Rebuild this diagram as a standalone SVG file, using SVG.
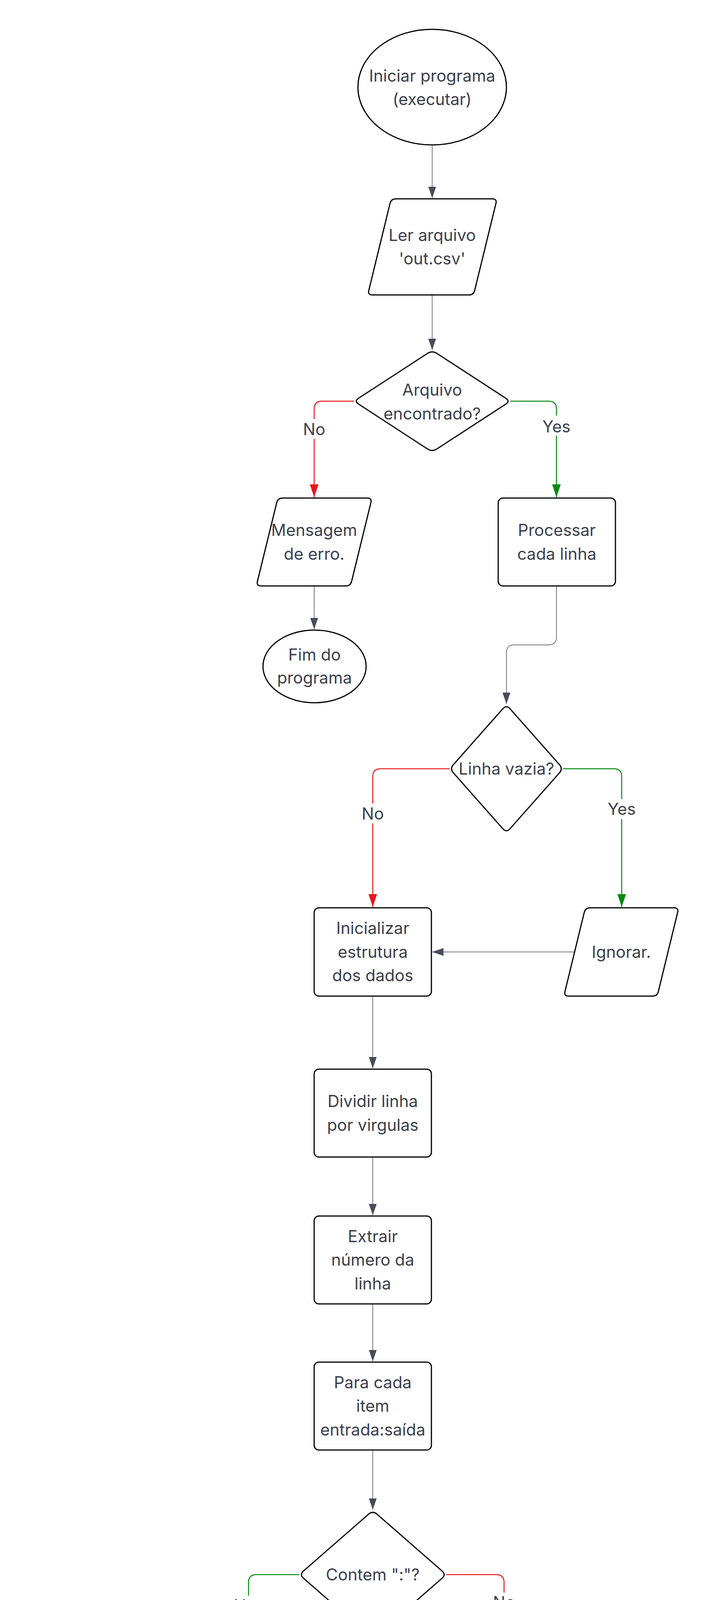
<svg xmlns="http://www.w3.org/2000/svg" width="1817" height="6996" viewBox="0 0 1817 6996">
<style>
.s{fill:#ffffff;stroke:#000000;stroke-width:3;stroke-linejoin:round}
.t{font-family:Inter,"Noto Sans","Liberation Sans",sans-serif;font-size:42px;fill:#3b404c;text-anchor:middle}
.g{fill:none;stroke:#474c59;stroke-width:1.5}
.r{fill:none;stroke:#e8161b;stroke-width:2.5}
.gr{fill:none;stroke:#008a0e;stroke-width:2.5}
.bg{fill:#ffffff;stroke:none}
</style>
<defs>
<marker id="mg" markerUnits="userSpaceOnUse" markerWidth="30" markerHeight="20" refX="29" refY="10" orient="auto"><path d="M0,0 L29,10 L0,20 Z" fill="#474c59"/></marker>
<marker id="mr" markerUnits="userSpaceOnUse" markerWidth="34" markerHeight="22" refX="33" refY="11" orient="auto"><path d="M0,0 L33,11 L0,22 Z" fill="#e8161b"/></marker>
<marker id="mgr" markerUnits="userSpaceOnUse" markerWidth="34" markerHeight="22" refX="33" refY="11" orient="auto"><path d="M0,0 L33,11 L0,22 Z" fill="#008a0e"/></marker>
</defs>
<rect x="0" y="0" width="1817" height="6996" fill="#ffffff"/>

<g id="connectors">
<path class="g" d="M1106,373 L1106,507" marker-end="url(#mg)"/>
<path class="g" d="M1106,755 L1106,896" marker-end="url(#mg)"/>
<path class="r" d="M906,1027 L824,1027 Q804,1027 804,1047 L804,1273" marker-end="url(#mr)"/>
<rect class="bg" x="778" y="1073" width="52" height="50"/>
<text class="t" x="804" y="1114">No</text>
<path class="gr" d="M1306,1027 L1404,1027 Q1424,1027 1424,1047 L1424,1273" marker-end="url(#mgr)"/>
<rect class="bg" x="1388" y="1064" width="72" height="51"/>
<text class="t" x="1424" y="1107">Yes</text>
<path class="g" d="M804,1500 L804,1611" marker-end="url(#mg)"/>
<path class="g" d="M1424,1500 L1424,1631 Q1424,1651 1404,1651 L1316,1651 Q1296,1651 1296,1671 L1296,1802" marker-end="url(#mg)"/>
<path class="r" d="M1151,1968 L974,1968 Q954,1968 954,1988 L954,2322" marker-end="url(#mr)"/>
<rect class="bg" x="928" y="2057" width="52" height="51"/>
<text class="t" x="954" y="2098">No</text>
<path class="gr" d="M1441,1968 L1571,1968 Q1591,1968 1591,1988 L1591,2322" marker-end="url(#mgr)"/>
<rect class="bg" x="1555" y="2046" width="72" height="51"/>
<text class="t" x="1591" y="2086">Yes</text>
<path class="g" d="M1470,2437 L1106,2437" marker-end="url(#mg)"/>
<path class="g" d="M954,2550 L954,2735" marker-end="url(#mg)"/>
<path class="g" d="M954,2962 L954,3111" marker-end="url(#mg)"/>
<path class="g" d="M954,3338 L954,3485" marker-end="url(#mg)"/>
<path class="g" d="M954,3712 L954,3865" marker-end="url(#mg)"/>
<path class="gr" d="M766,4031 L656,4031 Q636,4031 636,4051 L636,4321" marker-end="url(#mgr)"/>
<rect class="bg" x="600" y="4085" width="72" height="51"/>
<text class="t" x="636" y="4125">Yes</text>
<path class="r" d="M1142,4031 L1270,4031 Q1290,4031 1290,4051 L1290,4321" marker-end="url(#mr)"/>
<rect class="bg" x="1264" y="4077" width="52" height="51"/>
<text class="t" x="1290" y="4117">No</text>
<path class="g" d="M636,4549 L636,4710" marker-end="url(#mg)"/>
<path class="g" d="M1290,4549 L1290,4710" marker-end="url(#mg)"/>
<path class="g" d="M636,4937 L636,5098" marker-end="url(#mg)"/>
<path class="g" d="M636,5325 L636,5515" marker-end="url(#mg)"/>
<path class="r" d="M409,5681 L304,5681 Q284,5681 284,5701 L284,5960" marker-end="url(#mr)"/>
<rect class="bg" x="258" y="5731" width="52" height="51"/>
<text class="t" x="284" y="5772">No</text>
<path class="gr" d="M863,5681 L1031,5681 L1031,5847" marker-end="url(#mgr)"/>
<rect class="bg" x="996" y="5658" width="72" height="48"/>
<text class="t" x="1031" y="5697">Yes</text>
<path class="g" d="M1040,6075 L1040,6236" marker-end="url(#mg)"/>
<path class="g" d="M1040,6463 L1040,6620" marker-end="url(#mg)"/>
</g>

<g id="n-start">
<ellipse class="s" cx="1106" cy="223" rx="190" ry="148"/>
<text class="t" x="1106" y="209">Iniciar programa</text>
<text class="t" x="1106" y="269">(executar)</text>
</g>
<g id="n-ler">
<path class="s" d="M1013,509 L1260,509 Q1272,509 1269.2,520.7 L1214.8,743.3 Q1212,755 1200,755 L953,755 Q941,755 943.8,743.3 L998.2,520.7 Q1001,509 1013,509 Z"/>
<text class="t" x="1106" y="617">Ler arquivo</text>
<text class="t" x="1106" y="677">'out.csv'</text>
</g>
<g id="n-arquivo">
<path class="s" d="M1094.3,904.6 Q1106,897 1117.7,904.6 L1294.3,1019.4 Q1306,1027 1294.3,1034.6 L1117.7,1149.4 Q1106,1157 1094.3,1149.4 L917.7,1034.6 Q906,1027 917.7,1019.4 Z"/>
<text class="t" x="1106" y="1013">Arquivo</text>
<text class="t" x="1106" y="1074">encontrado?</text>
</g>
<g id="n-mensagem">
<path class="s" d="M723,1275 L940,1275 Q952,1275 949.2,1286.7 L899.8,1488.3 Q897,1500 885,1500 L668,1500 Q656,1500 658.8,1488.3 L708.2,1286.7 Q711,1275 723,1275 Z"/>
<text class="t" x="804" y="1372">Mensagem</text>
<text class="t" x="804" y="1433">de erro.</text>
</g>
<g id="n-processar">
<rect class="s" x="1275" y="1275" width="300" height="225" rx="12"/>
<text class="t" x="1425" y="1372">Processar</text>
<text class="t" x="1425" y="1433">cada linha</text>
</g>
<g id="n-fim1">
<ellipse class="s" cx="805" cy="1706" rx="132" ry="93"/>
<text class="t" x="805" y="1691">Fim do</text>
<text class="t" x="805" y="1750">programa</text>
</g>
<g id="n-vazia">
<path class="s" d="M1286.7,1814.5 Q1296,1804 1305.3,1814.5 L1431.7,1957.5 Q1441,1968 1431.7,1978.5 L1305.3,2121.5 Q1296,2132 1286.7,2121.5 L1160.3,1978.5 Q1151,1968 1160.3,1957.5 Z"/>
<text class="t" x="1296" y="1983">Linha vazia?</text>
</g>
<g id="n-inicializar">
<rect class="s" x="804" y="2324" width="300" height="226" rx="12"/>
<text class="t" x="954" y="2391">Inicializar</text>
<text class="t" x="954" y="2452">estrutura</text>
<text class="t" x="954" y="2512">dos dados</text>
</g>
<g id="n-ignorar">
<path class="s" d="M1510,2324 L1725,2324 Q1737,2324 1734.2,2335.7 L1684.8,2538.3 Q1682,2550 1670,2550 L1455,2550 Q1443,2550 1445.8,2538.3 L1495.2,2335.7 Q1498,2324 1510,2324 Z"/>
<text class="t" x="1590" y="2452">Ignorar.</text>
</g>
<g id="n-dividir">
<rect class="s" x="804" y="2737" width="300" height="225" rx="12"/>
<text class="t" x="954" y="2834">Dividir linha</text>
<text class="t" x="954" y="2895">por virgulas</text>
</g>
<g id="n-extrair">
<rect class="s" x="804" y="3113" width="300" height="225" rx="12"/>
<text class="t" x="954" y="3180">Extrair</text>
<text class="t" x="954" y="3240">número da</text>
<text class="t" x="954" y="3301">linha</text>
</g>
<g id="n-paraitem">
<rect class="s" x="804" y="3487" width="300" height="225" rx="12"/>
<text class="t" x="954" y="3554">Para cada</text>
<text class="t" x="954" y="3614">item</text>
<text class="t" x="954" y="3675">entrada:saída</text>
</g>
<g id="n-contem">
<path class="s" d="M943.45,3876.2 Q954,3867 964.55,3876.2 L1131.45,4021.8 Q1142,4031 1131.45,4040.2 L964.55,4185.8 Q954,4195 943.45,4185.8 L776.55,4040.2 Q766,4031 776.55,4021.8 Z"/>
<text class="t" x="954" y="4046">Contem ":"?</text>
</g>
<g id="n-paralinha">
<path class="s" d="M557,4323 L773,4323 Q785,4323 782.2,4334.7 L732.8,4537.3 Q730,4549 718,4549 L502,4549 Q490,4549 492.8,4537.3 L542.2,4334.7 Q545,4323 557,4323 Z"/>
<text class="t" x="637" y="4390">Para cada</text>
<text class="t" x="637" y="4451">linha do</text>
<text class="t" x="637" y="4511">arquivo</text>
</g>
<g id="n-exibirerro">
<path class="s" d="M1210,4323 L1425,4323 Q1437,4323 1434.2,4334.7 L1384.8,4537.3 Q1382,4549 1370,4549 L1155,4549 Q1143,4549 1145.8,4537.3 L1195.2,4334.7 Q1198,4323 1210,4323 Z"/>
<text class="t" x="1290" y="4390">Exibir</text>
<text class="t" x="1290" y="4451">mensagem</text>
<text class="t" x="1290" y="4511">de erro</text>
</g>
<g id="n-converter">
<rect class="s" x="488" y="4712" width="300" height="225" rx="12"/>
<text class="t" x="638" y="4809">Converter</text>
<text class="t" x="638" y="4870">para inteiros</text>
</g>
<g id="n-proxima">
<ellipse class="s" cx="1291" cy="4872" rx="141" ry="160"/>
<text class="t" x="1291" y="4887">Proxima linha</text>
</g>
<g id="n-armazenar">
<rect class="s" x="488" y="5100" width="300" height="225" rx="12"/>
<text class="t" x="638" y="5167">armazenar</text>
<text class="t" x="638" y="5227">na lista da</text>
<text class="t" x="638" y="5288">linha.</text>
</g>
<g id="n-todos">
<path class="s" d="M624.65,5525.2 Q636,5517 647.35,5525.2 L851.65,5672.8 Q863,5681 851.65,5689.2 L647.35,5836.8 Q636,5845 624.65,5836.8 L420.35,5689.2 Q409,5681 420.35,5672.8 Z"/>
<text class="t" x="636" y="5666">Todos os dados</text>
<text class="t" x="636" y="5727">processados?</text>
</g>
<g id="n-voltar">
<path class="s" d="M174,5962 L475,5962 Q487,5962 484,5973.6 L403,6288.4 Q400,6300 388,6300 L87,6300 Q75,6300 78,6288.4 L159,5973.6 Q162,5962 174,5962 Z"/>
<text class="t" x="281" y="6115">Voltar para a</text>
<text class="t" x="281" y="6176">proxima linha.</text>
</g>
<g id="n-ordenar">
<rect class="s" x="890" y="5849" width="300" height="226" rx="12"/>
<text class="t" x="1040" y="5916">Ordenar</text>
<text class="t" x="1040" y="5977">resultados</text>
<text class="t" x="1040" y="6037">por entrada</text>
</g>
<g id="n-relatorio">
<path class="s" d="M960,6238 L1175,6238 Q1187,6238 1184.2,6249.7 L1134.8,6451.3 Q1132,6463 1120,6463 L905,6463 Q893,6463 895.8,6451.3 L945.2,6249.7 Q948,6238 960,6238 Z"/>
<text class="t" x="1040" y="6335">Exibir</text>
<text class="t" x="1040" y="6396">relatório</text>
</g>
<g id="n-fim2">
<ellipse class="s" cx="1059" cy="6774" rx="190" ry="148"/>
<text class="t" x="1059" y="6789">Fim do programa.</text>
</g>
</svg>
